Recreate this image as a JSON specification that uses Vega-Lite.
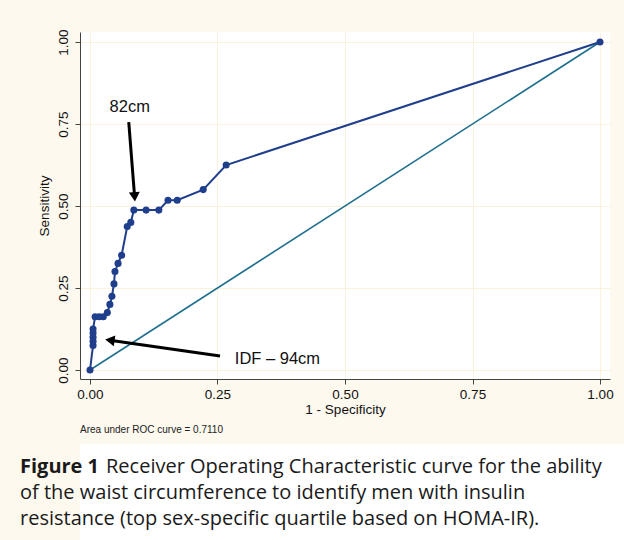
{
  "$schema": "https://vega.github.io/schema/vega-lite/v6.json",
  "background": "#fdf9ef",
  "padding": {"left": 20, "top": 28, "right": 0, "bottom": 0},
  "spacing": 65,
  "bounds": "flush",
  "config": {"view": {"stroke": null}, "font": "Liberation Sans"},
  "datasets": {
    "roc": [
      {"i": 0, "fpr": 0, "tpr": 0},
      {"i": 1, "fpr": 0.006, "tpr": 0.075},
      {"i": 2, "fpr": 0.006, "tpr": 0.0875},
      {"i": 3, "fpr": 0.006, "tpr": 0.1},
      {"i": 4, "fpr": 0.006, "tpr": 0.1125},
      {"i": 5, "fpr": 0.006, "tpr": 0.125},
      {"i": 6, "fpr": 0.01, "tpr": 0.1625},
      {"i": 7, "fpr": 0.018, "tpr": 0.1625},
      {"i": 8, "fpr": 0.026, "tpr": 0.1625},
      {"i": 9, "fpr": 0.034, "tpr": 0.175},
      {"i": 10, "fpr": 0.039, "tpr": 0.2},
      {"i": 11, "fpr": 0.043, "tpr": 0.225},
      {"i": 12, "fpr": 0.047, "tpr": 0.2625},
      {"i": 13, "fpr": 0.049, "tpr": 0.3},
      {"i": 14, "fpr": 0.055, "tpr": 0.325},
      {"i": 15, "fpr": 0.062, "tpr": 0.35},
      {"i": 16, "fpr": 0.073, "tpr": 0.4375},
      {"i": 17, "fpr": 0.08, "tpr": 0.45},
      {"i": 18, "fpr": 0.086, "tpr": 0.4875},
      {"i": 19, "fpr": 0.11, "tpr": 0.4875},
      {"i": 20, "fpr": 0.135, "tpr": 0.4875},
      {"i": 21, "fpr": 0.153, "tpr": 0.5175},
      {"i": 22, "fpr": 0.171, "tpr": 0.5175},
      {"i": 23, "fpr": 0.222, "tpr": 0.55},
      {"i": 24, "fpr": 0.267, "tpr": 0.625},
      {"i": 25, "fpr": 1, "tpr": 1}
    ],
    "diag": [{"x": 0, "y": 0, "x2": 1, "y2": 1}],
    "arrows": [
      {"label": "82cm", "x": 0.076, "y": 0.756, "hx": 0.0875, "hy": 0.528},
      {"label": "IDF – 94cm", "x": 0.255, "y": 0.043, "hx": 0.039, "hy": 0.091}
    ],
    "labels": [
      {"label": "82cm", "x": 0.078, "y": 0.803},
      {"label": "IDF – 94cm", "x": 0.284, "y": 0.034}
    ],
    "caption": [
      {"part": "bold", "line": 1, "text": "Figure 1"},
      {"part": "reg1", "line": 1, "text": "Receiver Operating Characteristic curve for the ability"},
      {"part": "reg", "line": 2, "text": "of the waist circumference to identify men with insulin"},
      {"part": "reg", "line": 3, "text": "resistance (top sex-specific quartile based on HOMA-IR)."}
    ]
  },
  "vconcat": [
    {
      "width": 530,
      "height": 347,
      "view": {"fill": "white", "stroke": null},
      "title": {"text": "Area under ROC curve = 0.7110", "orient": "bottom", "anchor": "start", "frame": "group", "fontSize": 10, "fontWeight": "normal", "font": "Liberation Sans", "color": "#222", "offset": 9},
      "layer": [
        {
          "data": {"name": "diag"},
          "mark": {"type": "rule", "color": "#1f6f8f", "strokeWidth": 1.6},
          "encoding": {
            "x": {"field": "x", "type": "quantitative", "scale": {"domain": [-0.0196, 1.0196], "nice": false, "zero": false},
              "axis": {"title": "1 - Specificity", "values": [0, 0.25, 0.5, 0.75, 1], "format": ".2f", "labelFontSize": 13.5, "titleFontSize": 13.5, "titleFontWeight": "normal", "tickSize": 5, "labelPadding": 3, "titlePadding": 2, "grid": true, "gridColor": "#fbf1dc", "domainColor": "#444", "tickColor": "#444", "labelColor": "#111", "titleColor": "#111", "labelFlush": false}},
            "y": {"field": "y", "type": "quantitative", "scale": {"domain": [-0.0274, 1.0305], "nice": false, "zero": false},
              "axis": {"title": "Sensitivity", "values": [0, 0.25, 0.5, 0.75, 1], "format": ".2f", "labelAngle": -90, "labelAlign": "center", "labelBaseline": "bottom", "labelFontSize": 13.5, "titleFontSize": 13.5, "titleFontWeight": "normal", "tickSize": 5, "labelPadding": 5, "titlePadding": 5, "grid": true, "gridColor": "#fbf1dc", "domainColor": "#444", "tickColor": "#444", "labelColor": "#111", "titleColor": "#111", "labelFlush": false}},
            "x2": {"field": "x2"},
            "y2": {"field": "y2"}
          }
        },
        {
          "data": {"name": "roc"},
          "mark": {"type": "line", "color": "#1f3e8c", "strokeWidth": 2, "point": {"filled": true, "size": 50, "color": "#1f3e8c", "opacity": 1}},
          "encoding": {
            "x": {"field": "fpr", "type": "quantitative"},
            "y": {"field": "tpr", "type": "quantitative"},
            "order": {"field": "i", "type": "quantitative"}
          }
        },
        {
          "data": {"name": "arrows"},
          "mark": {"type": "rule", "color": "#000", "strokeWidth": 3},
          "encoding": {
            "x": {"field": "x", "type": "quantitative"},
            "y": {"field": "y", "type": "quantitative"},
            "x2": {"field": "hx"},
            "y2": {"field": "hy"}
          }
        },
        {
          "data": {"name": "arrows"},
          "transform": [{"filter": "datum.label == '82cm'"}],
          "mark": {"type": "point", "shape": "triangle-down", "filled": true, "color": "#000", "size": 120, "angle": 356, "opacity": 1},
          "encoding": {
            "x": {"field": "hx", "type": "quantitative"},
            "y": {"field": "hy", "type": "quantitative"}
          }
        },
        {
          "data": {"name": "arrows"},
          "transform": [{"filter": "datum.label != '82cm'"}],
          "mark": {"type": "point", "shape": "triangle-left", "filled": true, "color": "#000", "size": 120, "angle": 8, "opacity": 1},
          "encoding": {
            "x": {"field": "hx", "type": "quantitative"},
            "y": {"field": "hy", "type": "quantitative"}
          }
        },
        {
          "data": {"name": "labels"},
          "transform": [{"filter": "datum.label == '82cm'"}],
          "mark": {"type": "text", "align": "center", "baseline": "middle", "fontSize": 16.5, "color": "#111"},
          "encoding": {
            "x": {"field": "x", "type": "quantitative"},
            "y": {"field": "y", "type": "quantitative"},
            "text": {"field": "label"}
          }
        },
        {
          "data": {"name": "labels"},
          "transform": [{"filter": "datum.label != '82cm'"}],
          "mark": {"type": "text", "align": "left", "baseline": "middle", "fontSize": 16.5, "color": "#111"},
          "encoding": {
            "x": {"field": "x", "type": "quantitative"},
            "y": {"field": "y", "type": "quantitative"},
            "text": {"field": "label"}
          }
        }
      ]
    },
    {
      "width": 544,
      "height": 98,
      "view": {"fill": "white", "stroke": null},
      "data": {"name": "caption"},
      "layer": [
        {
          "transform": [{"filter": "datum.part == 'bold'"}],
          "mark": {"type": "text", "align": "left", "baseline": "middle", "font": "Open Sans", "fontSize": 20, "fontWeight": "bold", "color": "#1a1a1a", "dx": -60},
          "encoding": {
            "x": {"datum": 0, "type": "quantitative", "scale": {"domain": [0, 1]}, "axis": null},
            "y": {"field": "line", "type": "ordinal", "scale": {"type": "point", "padding": 0.885}, "axis": null},
            "text": {"field": "text"}
          }
        },
        {
          "transform": [{"filter": "datum.part == 'reg1'"}],
          "mark": {"type": "text", "align": "left", "baseline": "middle", "font": "Open Sans", "fontSize": 20, "color": "#1a1a1a", "dx": 26},
          "encoding": {
            "x": {"datum": 0, "type": "quantitative"},
            "y": {"field": "line", "type": "ordinal"},
            "text": {"field": "text"}
          }
        },
        {
          "transform": [{"filter": "datum.part == 'reg'"}],
          "mark": {"type": "text", "align": "left", "baseline": "middle", "font": "Open Sans", "fontSize": 20, "color": "#1a1a1a", "dx": -60},
          "encoding": {
            "x": {"datum": 0, "type": "quantitative"},
            "y": {"field": "line", "type": "ordinal"},
            "text": {"field": "text"}
          }
        }
      ]
    }
  ]
}
